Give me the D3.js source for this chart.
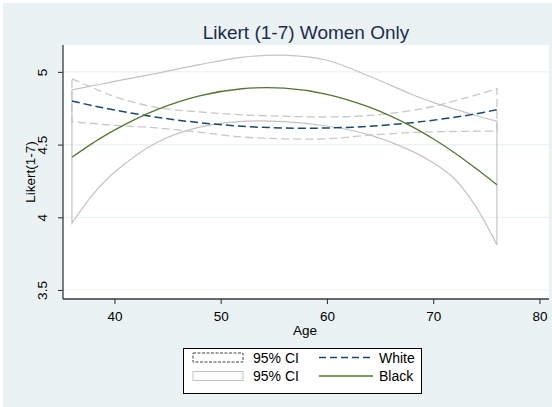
<!DOCTYPE html>
<html>
<head>
<meta charset="utf-8">
<script src="https://cdn.jsdelivr.net/npm/d3@7"></script>
<style>
  html, body { margin: 0; padding: 0; background: #fff; }
  svg { display: block; font-family: "Liberation Sans", Arial, sans-serif; }
</style>
</head>
<body>
<svg id="chart" width="552" height="407"></svg>
<script>
// Fitted Likert scores by age, with 95% confidence bands
const ages     = [36, 38, 40, 44, 48, 52, 56, 60, 64, 68, 70, 72, 74, 76];
const whiteFit = [4.800, 4.767, 4.738, 4.688, 4.651, 4.626, 4.614, 4.614, 4.626, 4.651, 4.668, 4.688, 4.711, 4.740];
const whiteHi  = [4.952, 4.890, 4.830, 4.755, 4.725, 4.705, 4.695, 4.690, 4.700, 4.735, 4.762, 4.800, 4.840, 4.885];
const whiteLo  = [4.657, 4.645, 4.632, 4.615, 4.585, 4.552, 4.540, 4.540, 4.565, 4.583, 4.588, 4.590, 4.592, 4.593];
const blackFit = [4.413, 4.512, 4.600, 4.740, 4.835, 4.884, 4.888, 4.846, 4.757, 4.624, 4.540, 4.444, 4.337, 4.224];
const blackHi  = [4.876, 4.905, 4.935, 4.990, 5.050, 5.100, 5.115, 5.080, 4.970, 4.845, 4.790, 4.745, 4.700, 4.660];
const blackLo  = [3.960, 4.160, 4.310, 4.515, 4.620, 4.660, 4.658, 4.628, 4.567, 4.455, 4.375, 4.265, 4.075, 3.810];

const xTicks = [40, 50, 60, 70, 80];
const yTicks = [3.5, 4, 4.5, 5];
const yTickLabels = ["3.5", "4", "4.5", "5"];
const legendLabels = ["95% CI", "95% CI", "White", "Black"];

const bg = "#eaf2f3";
const navy = "#1a476f";
const green = "#55752f";
const ciGrey = "#c3c3c3";

const svg = d3.select("#chart");
const plot = { left: 63, right: 549, top: 45, bottom: 299 };

// background and plot region
svg.append("rect").attr("x", 3).attr("y", 3).attr("width", 549).attr("height", 404).attr("fill", bg);
svg.append("rect").attr("x", plot.left).attr("y", plot.top)
  .attr("width", plot.right - plot.left).attr("height", plot.bottom - plot.top).attr("fill", "#fff");

const x = d3.scaleLinear().domain([35.16, 80.9]).range([plot.left, plot.right]);
const y = d3.scaleLinear().domain([3.438, 5.185]).range([plot.bottom, plot.top]);
const curve = d3.curveCatmullRom.alpha(0.5);

// horizontal gridlines
svg.append("g").selectAll("line").data(yTicks).join("line")
  .attr("x1", plot.left).attr("x2", plot.right)
  .attr("y1", d => y(d)).attr("y2", d => y(d))
  .attr("stroke", bg).attr("stroke-width", 1.2);

// title
svg.append("text").attr("x", 306).attr("y", 39).attr("text-anchor", "middle")
  .attr("font-size", 19).attr("fill", "#1e2b4f").text("Likert (1-7) Women Only");

// confidence bands (outlined, unfilled)
const band = (hi, lo) => d3.area()
  .x((d, i) => x(ages[i]))
  .y1((d, i) => y(hi[i]))
  .y0((d, i) => y(lo[i]))
  .curve(curve)(ages);

svg.append("path").attr("d", band(whiteHi, whiteLo))
  .attr("fill", "none").attr("stroke", "#c8c8c8").attr("stroke-width", 1.3)
  .attr("stroke-dasharray", "8,4");
svg.append("path").attr("d", band(blackHi, blackLo))
  .attr("fill", "none").attr("stroke", ciGrey).attr("stroke-width", 1.2);

// fitted lines
const line = vals => d3.line()
  .x((d, i) => x(ages[i]))
  .y((d, i) => y(vals[i]))
  .curve(curve)(ages);

svg.append("path").attr("d", line(whiteFit))
  .attr("fill", "none").attr("stroke", navy).attr("stroke-width", 1.5)
  .attr("stroke-dasharray", "8,4");
svg.append("path").attr("d", line(blackFit))
  .attr("fill", "none").attr("stroke", green).attr("stroke-width", 1.3);

// axes
const xAxis = svg.append("g").attr("transform", `translate(0,${plot.bottom})`)
  .call(d3.axisBottom(x).tickValues(xTicks).tickSize(5).tickPadding(4).tickFormat(d3.format("d")));
const yAxis = svg.append("g").attr("transform", `translate(${plot.left},0)`)
  .call(d3.axisLeft(y).tickValues(yTicks).tickSize(5).tickFormat((d, i) => yTickLabels[i]));

[xAxis, yAxis].forEach(g => {
  g.select(".domain").attr("stroke", "#3a3a3a").attr("stroke-width", 1.3);
  g.selectAll(".tick line").attr("stroke", "#3a3a3a").attr("stroke-width", 1.1);
  g.selectAll("text").attr("font-size", 13.5).attr("fill", "#000")
    .attr("font-family", "'Liberation Sans', Arial, sans-serif");
});
// keep the axis lines within the plot region
xAxis.select(".domain").attr("d", `M${plot.left},0H${plot.right}`);
yAxis.select(".domain").attr("d", `M0,${plot.top}V${plot.bottom}`);
xAxis.selectAll(".tick text").attr("y", 0).attr("dy", null).attr("transform", "translate(0,22)");
// rotated y tick labels
yAxis.selectAll(".tick text")
  .attr("x", null).attr("dy", null).attr("y", null)
  .attr("text-anchor", "middle")
  .attr("transform", `translate(${47 - plot.left},0) rotate(-90)`);

// axis titles
svg.append("text").attr("x", 305).attr("y", 334.5).attr("text-anchor", "middle")
  .attr("font-size", 13.5).text("Age");
svg.append("text").attr("transform", `translate(34.5,${(plot.top + plot.bottom) / 2}) rotate(-90)`)
  .attr("text-anchor", "middle").attr("font-size", 13.5).text("Likert(1-7)");

// legend
const lg = svg.append("g");
lg.append("rect").attr("x", 183.5).attr("y", 348.5).attr("width", 238).attr("height", 45)
  .attr("fill", "#fff").attr("stroke", "#000").attr("stroke-width", 1);
lg.append("rect").attr("x", 193).attr("y", 353).attr("width", 50).attr("height", 9)
  .attr("fill", "#fff").attr("stroke", "#444").attr("stroke-width", 1).attr("stroke-dasharray", "3,1.5");
lg.append("rect").attr("x", 193).attr("y", 371.5).attr("width", 50).attr("height", 9)
  .attr("fill", "#fff").attr("stroke", ciGrey).attr("stroke-width", 1);
lg.append("line").attr("x1", 319).attr("x2", 373).attr("y1", 357.5).attr("y2", 357.5)
  .attr("stroke", navy).attr("stroke-width", 1.4).attr("stroke-dasharray", "7,4");
lg.append("line").attr("x1", 319).attr("x2", 373).attr("y1", 376).attr("y2", 376)
  .attr("stroke", green).attr("stroke-width", 1.3);
const legendPos = [[253, 362.5], [253, 381], [379, 362.5], [379, 381]];
legendLabels.forEach((t, i) => {
  lg.append("text").attr("x", legendPos[i][0]).attr("y", legendPos[i][1])
    .attr("font-size", 14).text(t);
});
</script>
</body>
</html>
